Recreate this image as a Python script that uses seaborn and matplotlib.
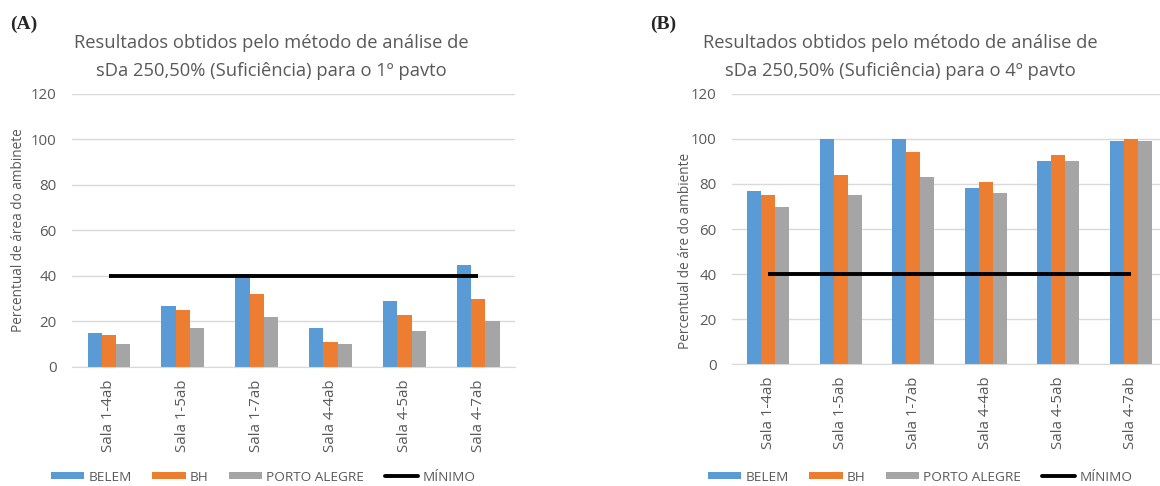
import numpy as np
import pandas as pd
import matplotlib
matplotlib.use("Agg")
import matplotlib.pyplot as plt
import seaborn as sns
from matplotlib.patches import Patch
from matplotlib.lines import Line2D

salas = ["Sala 1-4ab", "Sala 1-5ab", "Sala 1-7ab", "Sala 4-4ab", "Sala 4-5ab", "Sala 4-7ab"]
cidades = ["BELEM", "BH", "PORTO ALEGRE"]

# (A) 1o pavto
belem_a = [15, 27, 41, 17, 29, 45]
bh_a = [14, 25, 32, 11, 23, 30]
poa_a = [10, 17, 22, 10, 16, 20]
minimo_a = [40, 40, 40, 40, 40, 40]

# (B) 4o pavto
belem_b = [77, 100, 100, 78, 90, 99]
bh_b = [75, 84, 94, 81, 93, 100]
poa_b = [70, 75, 83, 76, 90, 99]
minimo_b = [40, 40, 40, 40, 40, 40]

cores = ["#5B9BD5", "#ED7D31", "#A5A5A5"]
cinza = "#595959"

sns.set_style("white")
plt.rcParams["font.family"] = ["Open Sans", "DejaVu Sans"]


def monta_df(b, h, p):
    rows = []
    for c, vals in zip(cidades, [b, h, p]):
        for s, v in zip(salas, vals):
            rows.append({"sala": s, "cidade": c, "valor": v})
    return pd.DataFrame(rows)


def painel(ax, df, minimo, ylabel, xlab, ylab):
    sns.barplot(data=df, x="sala", y="valor", hue="cidade", hue_order=cidades,
                order=salas, palette=cores, width=0.58, saturation=1,
                edgecolor="none", linewidth=0, legend=False, ax=ax)
    ax.plot(np.arange(len(salas)), minimo, color="black", lw=2.8, solid_capstyle="butt")
    ax.set_ylim(0, 120)
    ax.set_yticks(range(0, 121, 20))
    ax.set_xlim(-0.5, len(salas) - 0.5)
    ax.grid(axis="y", color="#D9D9D9", lw=1)
    ax.set_axisbelow(True)
    for sp in ["top", "right", "left"]:
        ax.spines[sp].set_visible(False)
    ax.spines["bottom"].set_color("#D9D9D9")
    ax.tick_params(axis="both", length=0, colors=cinza, labelsize=10.8)
    ax.tick_params(axis="y", pad=11)
    ax.tick_params(axis="x", pad=9)
    plt.setp(ax.get_xticklabels(), rotation=90)
    ax.set_xlabel("")
    ax.set_ylabel(ylabel, color=cinza, fontsize=9.8)
    ax.yaxis.set_label_coords(xlab, ylab)


fig = plt.figure(figsize=(11.6, 4.86), dpi=100)
ax_a = fig.add_axes([0.0621, 0.2449, 0.382, 0.5617])
ax_b = fig.add_axes([0.631, 0.251, 0.375, 0.5556])

painel(ax_a, monta_df(belem_a, bh_a, poa_a), minimo_a, "Percentual de área do ambinete", -0.104, 0.5)
painel(ax_b, monta_df(belem_b, bh_b, poa_b), minimo_b, "Percentual de áre do ambiente", -0.09, 0.42)

fig.text(271 / 1160, 1 - 57 / 486,
         "Resultados obtidos pelo método de análise de\nsDa 250,50% (Suficiência) para o 1º pavto",
         ha="center", va="center", fontsize=13.2, color=cinza, linespacing=1.7)
fig.text(900 / 1160, 1 - 57 / 486,
         "Resultados obtidos pelo método de análise de\nsDa 250,50% (Suficiência) para o 4º pavto",
         ha="center", va="center", fontsize=13.2, color=cinza, linespacing=1.7)
fig.text(10 / 1160, 1 - 24 / 486, "(A)", family="Liberation Serif", weight="bold",
         fontsize=14, va="center", ha="left")
fig.text(650 / 1160, 1 - 24 / 486, "(B)", family="Liberation Serif", weight="bold",
         fontsize=14, va="center", ha="left")

handles = [Patch(facecolor=c, edgecolor="none") for c in cores]
handles.append(Line2D([], [], color="black", lw=2.8))
labels = cidades + ["MÍNIMO"]
for cx in [263 / 1160, 920 / 1160]:
    leg = fig.legend(handles, labels, loc="center", bbox_to_anchor=(cx, 1 - 477 / 486),
                     ncol=4, frameon=False, fontsize=9.7, handlelength=2.5,
                     handleheight=0.45, handletextpad=0.3, columnspacing=1.5,
                     borderpad=0)
    for t in leg.get_texts():
        t.set_color(cinza)

fig.savefig("out.png", dpi=100)
